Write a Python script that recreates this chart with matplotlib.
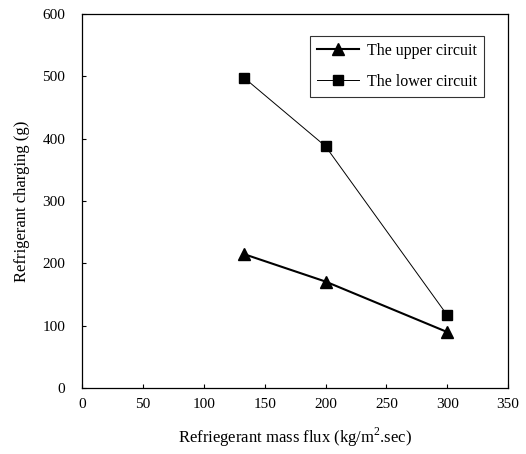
import matplotlib
matplotlib.use("Agg")
import matplotlib.pyplot as plt

# data
mass_flux = [133, 200, 300]
upper_charge = [215, 171, 90]
lower_charge = [498, 388, 117]

x_ticks = [0, 50, 100, 150, 200, 250, 300, 350]
y_ticks = [0, 100, 200, 300, 400, 500, 600]

plt.rcParams['font.family'] = ['Liberation Serif', 'DejaVu Serif']
plt.rcParams['mathtext.fontset'] = 'custom'
plt.rcParams['mathtext.rm'] = 'Liberation Serif'

fig = plt.figure(figsize=(5.26, 4.54), dpi=100)
ax = fig.add_axes([0.156, 0.145, 0.810, 0.824])

ax.plot(mass_flux, upper_charge, color='black', lw=1.5, marker='^', ms=8,
        label='The upper circuit')
ax.plot(mass_flux, lower_charge, color='black', lw=0.7, marker='s', ms=7,
        label='The lower circuit')

ax.set_xlim(0, 350)
ax.set_ylim(0, 600)
ax.set_xticks(x_ticks)
ax.set_yticks(y_ticks)
ax.tick_params(direction='in', length=3, width=0.8, labelsize=11)
ax.tick_params(axis='x', pad=7)
ax.tick_params(axis='y', pad=12)
for s in ax.spines.values():
    s.set_linewidth(0.9)

ax.set_xlabel(r'Refriegerant mass flux (kg/m$^\mathrm{2}$.sec)', fontsize=12, labelpad=11)
ax.set_ylabel('Refrigerant charging (g)', fontsize=12, labelpad=9)

leg = ax.legend(loc='upper right', bbox_to_anchor=(0.955, 0.955), fontsize=11.5,
                frameon=True, fancybox=False, edgecolor='black',
                handlelength=2.6, handletextpad=0.5, borderpad=0.45,
                labelspacing=0.95, borderaxespad=0.3)
leg.get_frame().set_linewidth(0.8)
# stretch the frame a little to the left like the original box
leg._legend_box.align = 'right'

fig.savefig('out.png', dpi=100)
